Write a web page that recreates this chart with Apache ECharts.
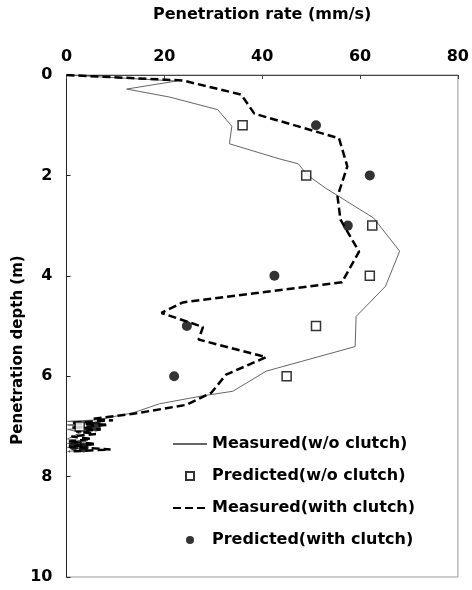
<!DOCTYPE html>
<html>
<head>
<meta charset="utf-8">
<script src="https://cdn.jsdelivr.net/npm/echarts@6/dist/echarts.min.js"></script>
<style>
  html, body { margin: 0; padding: 0; background: #fff; }
  #chart { width: 472px; height: 590px; }
</style>
</head>
<body>
<div id="chart"></div>
<script>
// [rate (mm/s), depth (m)]
const measuredWithout = [
  [0, 0], [22.5, 0.12], [12.3, 0.28], [21.1, 0.44], [30.9, 0.69], [33.8, 1.02],
  [33.3, 1.37], [43.5, 1.67], [47.4, 1.77], [49.2, 1.99], [52.9, 2.25], [62.8, 2.85],
  [68.1, 3.51], [65.2, 4.21], [59.2, 4.81], [59.0, 5.41], [40.8, 5.9], [34.0, 6.3],
  [27.9, 6.39], [19.0, 6.55], [13.6, 6.73], [6.2, 6.87], [0.2, 6.9], [7, 6.93],
  [0.2, 6.97], [5, 7.02], [0.2, 7.06], [3, 7.12], [0.2, 7.25], [4, 7.3], [0.2, 7.34],
  [5, 7.38], [0.2, 7.42], [4, 7.46], [0.2, 7.5]
];
const predictedWithout = [[36, 1], [49, 2], [62.5, 3], [62, 4], [51, 5], [45, 6], [2.7, 7]];
const measuredWith = [
  [0, 0], [23.8, 0.11], [35.7, 0.39], [38.4, 0.77], [55.7, 1.26], [57.4, 1.82],
  [55.4, 2.42], [56.0, 2.88], [59.8, 3.52], [56.3, 4.13], [23.8, 4.53], [19.4, 4.74],
  [27.9, 5.02], [27.0, 5.27], [40.8, 5.62], [32.6, 5.97], [29.6, 6.33], [24.5, 6.57],
  [13.6, 6.75], [5.5, 6.85], [9.5, 6.88], [1, 6.93], [8.5, 6.97], [1, 7.02], [7, 7.06],
  [2, 7.1], [6, 7.15], [1, 7.2], [5, 7.25], [0.5, 7.3], [6, 7.35], [0.5, 7.4],
  [9, 7.46], [0.5, 7.5]
];
const predictedWith = [[51, 1], [62, 2], [57.5, 3], [42.5, 4], [24.6, 5], [22, 6], [6, 7], [1.5, 7.38], [3.5, 7.42]];

const font = 'DejaVu Sans';
const squarePath = 'path://M0,0L10,0L10,10L0,10Z';
const chart = echarts.init(document.getElementById('chart'));

const option = {
  animation: false,
  grid: {
    left: 66.5, right: 13, top: 75, bottom: 13,
    show: true, borderColor: '#999', borderWidth: 1
  },
  legend: {
    orient: 'vertical',
    left: 167,
    top: 430,
    itemWidth: 34,
    itemHeight: 8,
    itemGap: 14,
    textStyle: { fontFamily: font, fontWeight: 'bold', fontSize: 16, color: '#000', lineHeight: 18 },
    data: [
      { name: 'Measured(w/o clutch)', itemStyle: { opacity: 0 } },
      { name: 'Predicted(w/o clutch)' },
      { name: 'Measured(with clutch)', itemStyle: { opacity: 0 } },
      { name: 'Predicted(with clutch)' }
    ]
  },
  graphic: [{
    type: 'text',
    x: 18,
    y: 350,
    rotation: Math.PI / 2,
    style: {
      text: 'Penetration depth (m)',
      fontFamily: font, fontWeight: 'bold', fontSize: 15, fill: '#000',
      align: 'center', verticalAlign: 'middle'
    }
  }],
  xAxis: {
    type: 'value',
    position: 'top',
    min: 0, max: 80, interval: 20,
    name: 'Penetration rate (mm/s)',
    nameLocation: 'middle',
    nameGap: 52,
    nameTextStyle: { fontFamily: font, fontWeight: 'bold', fontSize: 16, color: '#000' },
    axisLine: { lineStyle: { color: '#444', width: 1 } },
    axisTick: { inside: true, length: 4, lineStyle: { color: '#444' } },
    axisLabel: { fontFamily: font, fontWeight: 'bold', fontSize: 16, color: '#000', margin: 10 },
    splitLine: { show: false }
  },
  yAxis: {
    type: 'value',
    inverse: true,
    min: 0, max: 10, interval: 2,
    axisLine: { lineStyle: { color: '#222', width: 1 } },
    axisTick: { inside: true, length: 4, lineStyle: { color: '#222' } },
    axisLabel: { fontFamily: font, fontWeight: 'bold', fontSize: 16, color: '#000', margin: 14 },
    splitLine: { show: false }
  },
  series: [
    {
      name: 'Measured(w/o clutch)',
      type: 'line',
      data: measuredWithout,
      symbol: 'none',
      lineStyle: { color: '#666', width: 1 },
      itemStyle: { color: '#666' },
      z: 2
    },
    {
      name: 'Predicted(w/o clutch)',
      type: 'scatter',
      data: predictedWithout,
      symbol: squarePath,
      symbolKeepAspect: true,
      symbolSize: 9,
      itemStyle: { color: '#fff', borderColor: '#000', borderWidth: 1.5 },
      z: 4
    },
    {
      name: 'Measured(with clutch)',
      type: 'line',
      data: measuredWith,
      symbol: 'none',
      lineStyle: { color: '#000', width: 2.5, type: [8, 4] },
      itemStyle: { color: '#000' },
      z: 3
    },
    {
      name: 'Predicted(with clutch)',
      type: 'scatter',
      data: predictedWith,
      symbol: 'circle',
      symbolSize: 10,
      itemStyle: { color: '#000' },
      z: 4
    }
  ]
};

chart.setOption(option);
</script>
</body>
</html>
